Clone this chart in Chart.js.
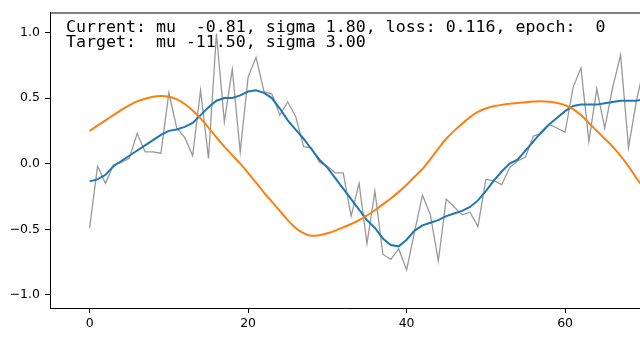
<!DOCTYPE html>
<html>
<head>
<meta charset="utf-8">
<script src="https://cdn.jsdelivr.net/npm/chart.js@4"></script>
<style>
  html, body { margin: 0; padding: 0; background: #fff; }
  canvas { display: block; }
</style>
</head>
<body>
<canvas id="fitChart" width="640" height="340"></canvas>
<script>
// x positions (sample index)
const steps = [0, 1, 2, 3, 4, 5, 6, 7, 8, 9, 10, 11, 12, 13, 14, 15, 16, 17, 18, 19,
  20, 21, 22, 23, 24, 25, 26, 27, 28, 29, 30, 31, 32, 33, 34, 35, 36, 37, 38, 39,
  40, 41, 42, 43, 44, 45, 46, 47, 48, 49, 50, 51, 52, 53, 54, 55, 56, 57, 58, 59,
  60, 61, 62, 63, 64, 65, 66, 67, 68, 69, 70];

// noisy samples (gray)
const observed = [-0.49, -0.02, -0.15, -0.01, 0.01, 0.04, 0.23, 0.09, 0.09, 0.08,
  0.54, 0.27, 0.20, 0.06, 0.56, 0.04, 0.99, 0.32, 0.72, 0.09,
  0.66, 0.81, 0.55, 0.53, 0.37, 0.47, 0.36, 0.13, 0.12, 0.01,
  -0.02, -0.07, -0.07, -0.40, -0.15, -0.61, -0.21, -0.69, -0.73, -0.65,
  -0.81, -0.52, -0.24, -0.39, -0.74, -0.27, -0.33, -0.39, -0.37, -0.48,
  -0.12, -0.13, -0.16, -0.03, 0.02, 0.05, 0.21, 0.23, 0.30, 0.27,
  0.24, 0.58, 0.73, 0.17, 0.57, 0.27, 0.58, 0.83, 0.12, 0.48, 0.75];

// smoothed / current fit (blue)
const fitted = [-0.135, -0.12, -0.085, -0.02, 0.02, 0.06, 0.10, 0.14, 0.18, 0.22,
  0.25, 0.26, 0.28, 0.31, 0.37, 0.43, 0.48, 0.50, 0.50, 0.52,
  0.55, 0.56, 0.54, 0.50, 0.42, 0.33, 0.26, 0.19, 0.11, 0.03,
  -0.03, -0.11, -0.19, -0.27, -0.35, -0.43, -0.49, -0.57, -0.62, -0.63,
  -0.58, -0.51, -0.47, -0.45, -0.43, -0.40, -0.38, -0.36, -0.33, -0.28,
  -0.21, -0.13, -0.06, 0.00, 0.03, 0.10, 0.17, 0.24, 0.30, 0.35,
  0.40, 0.44, 0.45, 0.45, 0.45, 0.46, 0.47, 0.48, 0.48, 0.48, 0.49];

// target curve (orange)
const target = [0.25, 0.29, 0.33, 0.37, 0.41, 0.445, 0.475, 0.495, 0.51, 0.515,
  0.51, 0.49, 0.455, 0.405, 0.345, 0.275, 0.20, 0.13, 0.065, 0.00,
  -0.07, -0.145, -0.22, -0.29, -0.36, -0.43, -0.49, -0.53, -0.55, -0.545,
  -0.53, -0.51, -0.485, -0.46, -0.43, -0.395, -0.355, -0.31, -0.265, -0.215,
  -0.16, -0.10, -0.04, 0.035, 0.115, 0.19, 0.25, 0.305, 0.355, 0.395,
  0.42, 0.437, 0.448, 0.456, 0.462, 0.468, 0.473, 0.475, 0.472, 0.462,
  0.445, 0.415, 0.37, 0.31, 0.25, 0.19, 0.13, 0.06, -0.02, -0.11, -0.19];

const xTicks = [0, 20, 40, 60];
const yTicks = [-1.0, -0.5, 0.0, 0.5, 1.0];
const infoLines = [
  'Current: mu  -0.81, sigma 1.80, loss: 0.116, epoch:  0',
  'Target:  mu -11.50, sigma 3.00'
];

const pts = arr => arr.map((v, i) => ({ x: steps[i], y: v }));

// top spine and the info text
const frameAndText = {
  id: 'frameAndText',
  afterDraw(chart) {
    const { ctx, chartArea } = chart;
    ctx.save();
    ctx.strokeStyle = '#000';
    ctx.lineWidth = 1;
    ctx.beginPath();
    ctx.moveTo(chartArea.left, chartArea.top + 0.5);
    ctx.lineTo(chartArea.right, chartArea.top + 0.5);
    ctx.stroke();
    ctx.fillStyle = '#000';
    ctx.font = '16.6px "DejaVu Sans Mono"';
    ctx.textBaseline = 'alphabetic';
    ctx.fillText(infoLines[0], 66, 32);
    ctx.fillText(infoLines[1], 66, 47);
    ctx.restore();
  }
};

const tickFont = { family: 'DejaVu Sans', size: 12.5 };

new Chart(document.getElementById('fitChart').getContext('2d'), {
  type: 'line',
  data: {
    datasets: [
      { data: pts(observed), borderColor: '#999999', borderWidth: 1.3, pointRadius: 0, order: 3 },
      { data: pts(fitted), borderColor: '#1f77b4', borderWidth: 2, pointRadius: 0, order: 2 },
      { data: pts(target), borderColor: '#ff7f0e', borderWidth: 2, pointRadius: 0,
        cubicInterpolationMode: 'monotone', order: 1 }
    ]
  },
  options: {
    responsive: false,
    animation: false,
    layout: { padding: { top: 12, left: 0, right: 0, bottom: 0 } },
    plugins: { legend: { display: false }, tooltip: { enabled: false } },
    scales: {
      x: {
        type: 'linear',
        min: -5,
        max: 69.45,
        afterBuildTicks: s => { s.ticks = xTicks.map(v => ({ value: v })); },
        afterFit: s => { s.height = 32; },
        grid: { drawOnChartArea: false, tickLength: 5, color: '#000' },
        border: { color: '#000', width: 1 },
        ticks: { color: '#000', font: tickFont, padding: 3, maxRotation: 0 }
      },
      y: {
        min: -1.1,
        max: 1.152,
        afterBuildTicks: s => { s.ticks = yTicks.map(v => ({ value: v })); },
        afterFit: s => { s.width = 50; },
        grid: { drawOnChartArea: false, tickLength: 5, color: '#000' },
        border: { color: '#000', width: 1 },
        ticks: {
          color: '#000', font: tickFont, padding: 5,
          callback: v => (v < 0 ? '\u2212' : '') + Math.abs(v).toFixed(1)
        }
      }
    }
  },
  plugins: [frameAndText]
});
</script>
</body>
</html>
